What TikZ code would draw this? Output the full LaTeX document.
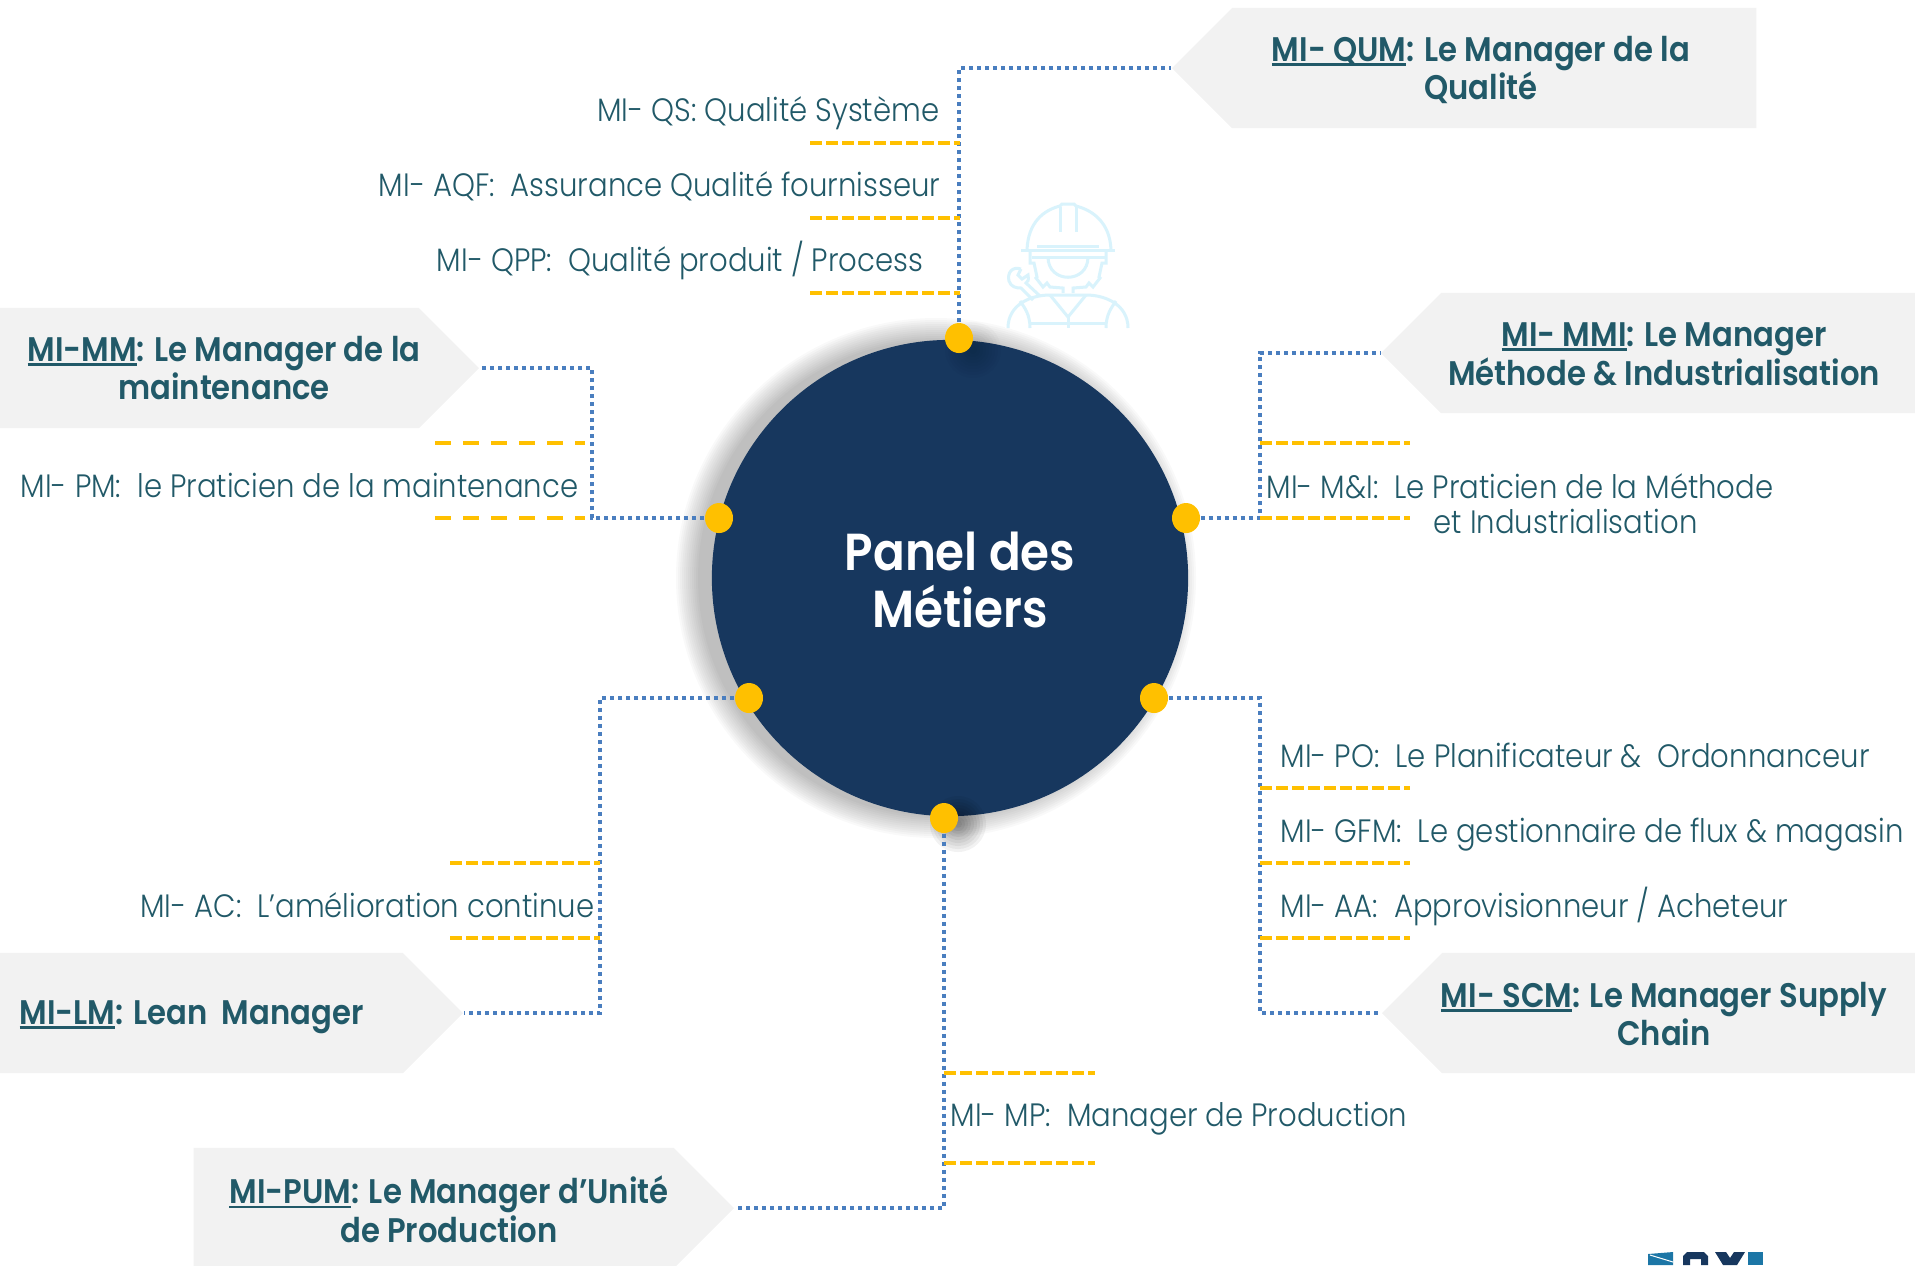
\documentclass[tikz,border=0pt]{standalone}
\usepackage{fontspec}
\setmainfont{Poppins Light}[BoldFont=Poppins SemiBold,FakeStretch=0.9]
\usetikzlibrary{shapes.geometric,shapes.symbols}
\definecolor{hubblue}{HTML}{17375E}
\definecolor{linkblue}{HTML}{4A7EBF}
\definecolor{tickgold}{HTML}{FFC000}
\definecolor{boxgrey}{HTML}{F2F2F2}
\definecolor{inkteal}{HTML}{215968}
\definecolor{iconblue}{HTML}{D9F3FC}
\definecolor{logoteal}{HTML}{1C76A6}
\newcommand{\ulbar}[1]{\setbox0\hbox{#1}\rlap{\raisebox{-1.4pt}{\rule{\wd0}{0.8pt}}}\box0}
\begin{document}
\begin{tikzpicture}[
        x=0.01cm, y=-0.01cm,
        hub/.style={circle, fill=hubblue, minimum size=4.76cm, inner sep=0pt},
        hubtext/.style={text=white, align=center, inner sep=0pt, font=\fontsize{14.8}{16}\selectfont\bfseries},
        pin/.style={ellipse, fill=tickgold, minimum width=0.28cm, minimum height=0.30cm, inner sep=0pt},
        boxw/.style={signal, signal to=west, signal pointer angle=90, fill=boxgrey, minimum height=1.2cm, inner sep=0pt, anchor=west},
        boxe/.style={signal, signal to=east, signal pointer angle=90, fill=boxgrey, minimum height=1.2cm, inner sep=0pt, anchor=east},
        title/.style={text=inkteal, align=center, inner sep=0pt, font=\fontsize{9.7}{11}\selectfont\bfseries},
        lbl/.style={text=inkteal, inner sep=0pt, font=\fontsize{9.2}{10}\selectfont},
        link/.style={linkblue, line width=0.035cm, dash pattern=on 0.04cm off 0.04cm},
        tick/.style={tickgold, line width=0.045cm, dash pattern=on 0.12cm off 0.04cm},
        widetick/.style={tickgold, line width=0.045cm, dash pattern=on 0.16cm off 0.12cm},
        icon/.style={iconblue, line width=0.03cm},
    ]
    \useasboundingbox (0,0) rectangle (1915,1265);

    \foreach \r in {238,240,...,260}
        \fill[black, opacity=0.022] (936,578) circle (\r);
    \fill[white] (1005,195) rectangle (1135,328);

    \draw[icon] (1027,250) .. controls (1028,222) and (1044,210) .. (1060,206) -- (1062,204) -- (1074,204) -- (1076,206) .. controls (1092,210) and (1110,222) .. (1111,250);
    \draw[icon] (1021,250) -- (1115,250);
    \draw[icon] (1037,246) -- (1099,246);
    \draw[icon] (1032,257) -- (1105,257);
    \draw[icon] (1060,207) -- (1060,232);
    \draw[icon] (1076,207) -- (1076,232);
    \draw[icon] (1030,252) -- (1030,263) -- (1034,263) -- (1037,277) -- (1036,278) -- (1043,287) -- (1047,283) -- (1050,287) -- (1063,288) -- (1063,293);
    \draw[icon] (1106,252) -- (1106,263) -- (1102,263) -- (1099,277) -- (1100,278) -- (1093,287) -- (1089,283) -- (1086,287) -- (1073,288) -- (1073,293);
    \draw[icon] (1048,257) .. controls (1048,284) and (1088,284) .. (1088,257);
    \draw[icon] (1008,328) .. controls (1008,305) and (1030,295) .. (1050,295) -- (1086,295) .. controls (1106,295) and (1128,305) .. (1128,328);
    \draw[icon] (1030,328) .. controls (1030,315) and (1025,308) .. (1020,301);
    \draw[icon] (1106,328) .. controls (1106,315) and (1111,308) .. (1116,301);
    \draw[icon] (1050,295) -- (1068,317) -- (1086,295);
    \draw[icon] (1068,317) -- (1068,328);
    \draw[icon] (1030,323) -- (1106,323);
    \draw[icon] (1021,269) .. controls (1012,266) and (1007,273) .. (1009,281) .. controls (1011,287) and (1016,288) .. (1021,288) -- (1033,300);
    \draw[icon] (1021,269) -- (1018,275) -- (1022,279) -- (1028,275) .. controls (1029,280) and (1028,282) .. (1026,283) -- (1040,296);

    \node[hub](hub) at (950,578) {};
    \node[hubtext](hubname) at (960,580) {Panel des\\Métiers};

    \foreach \r in {28,25,...,4} {
        \fill[black, opacity=0.05] (958,824) circle (\r);
        \fill[black, opacity=0.02] (973,350) circle (\r);
    }

    \node[pin](pintop) at (959,338) {};
    \node[pin](pinleft) at (719,518) {};
    \node[pin](pinright) at (1186,518) {};
    \node[pin](pinsw) at (749,698) {};
    \node[pin](pinse) at (1154,698) {};
    \node[pin](pinbottom) at (944,818) {};

    \node[boxw, minimum width=5.84cm](qumbox) at (1171,68) {};
    \node[boxw, minimum width=5.60cm](mmibox) at (1380,353) {};
    \node[boxw, minimum width=5.60cm](scmbox) at (1381,1013) {};
    \node[boxe, minimum width=5.20cm](mmbox) at (480,368) {};
    \node[boxe, minimum width=5.04cm](lmbox) at (464,1013) {};
    \node[boxe, minimum width=5.40cm](pumbox) at (735,1208) {};

    \node[title](qum) at (1481,70) {\ulbar{MI- QUM}: Le Manager de la\\Qualité};
    \node[title](mmi) at (1664,354) {\ulbar{MI- MMI}: Le Manager\\Méthode \& Industrialisation};
    \node[title](scm) at (1664,1014) {\ulbar{MI- SCM}: Le Manager Supply\\Chain};
    \node[title](mm) at (224,368) {\ulbar{MI-MM}: Le Manager de la\\maintenance};
    \node[title](pum) at (449,1209) {\ulbar{MI-PUM}: Le Manager d’Unité\\de Production};
    \node[title, anchor=west](lm) at (19,1017) {\ulbar{MI-LM}: Lean~~Manager};

    \node[lbl, anchor=base east](qs) at (940,121) {MI- QS: Qualité Système};
    \node[lbl, anchor=base east](aqf) at (941,196) {MI- AQF:~~Assurance Qualité fournisseur};
    \node[lbl, anchor=base east](qpp) at (924,271) {MI- QPP:~~Qualité produit / Process};
    \node[lbl, anchor=base east](pm) at (579,497) {MI- PM:~~le Praticien de la maintenance};
    \node[lbl, anchor=base east](ac) at (595,917) {MI- AC:~~L’amélioration continue};
    \node[lbl, anchor=west, align=left](mi) at (1266,504) {MI- M\&I:~~Le Praticien de la Méthode\\\hspace*{1.67cm}et Industrialisation};
    \node[lbl, anchor=base west](po) at (1280,767) {MI- PO:~~Le Planificateur \&~~Ordonnanceur};
    \node[lbl, anchor=base west](gfm) at (1280,842) {MI- GFM:~~Le gestionnaire de flux \& magasin};
    \node[lbl, anchor=base west](aa) at (1280,917) {MI- AA:~~Approvisionneur / Acheteur};
    \node[lbl, anchor=base west](mp) at (950,1126) {MI- MP:~~Manager de Production};

    \coordinate (qumturn) at (959,68);
    \coordinate (mmiturn) at (1260,518);
    \coordinate (mmturn) at (592,518);
    \coordinate (lmturn) at (600,698);
    \coordinate (scmturn) at (1260,698);
    \coordinate (pumturn) at (944,1208);

    \draw[link] (pintop) -- (qumturn) -- (qumbox.west);
    \draw[link] (pinright) -- (mmiturn) |- (mmibox.west);
    \draw[link] (pinleft) -- (mmturn) |- (mmbox.east);
    \draw[link] (pinsw) -- (lmturn) |- (lmbox.east);
    \draw[link] (pinse) -- (scmturn) |- (scmbox.west);
    \draw[link] (pinbottom) -- (pumturn) -- (pumbox.east);

    \foreach \y in {143,218,293}
        \draw[tick] (810,\y) -- (960,\y);
    \foreach \y in {443,518}
        \draw[tick] (1260,\y) -- (1410,\y);
    \foreach \y in {788,863,938}
        \draw[tick] (1260,\y) -- (1410,\y);
    \foreach \y in {863,938}
        \draw[tick] (450,\y) -- (600,\y);
    \foreach \y in {1073,1163}
        \draw[tick] (944,\y) -- (1095,\y);
    \foreach \y in {443,518}
        \draw[widetick] (435,\y) -- (585,\y);

    \fill[logoteal] (1648,1265) -- (1648,1254) -- (1673,1252) -- (1673,1265) -- cycle;
    \draw[white, line width=0.01cm] (1650,1255) -- (1673,1262);
    \fill[hubblue] (1683,1265) -- (1683,1256) -- (1687,1252) -- (1704,1252) -- (1708,1256) -- (1708,1265) -- (1701,1265) -- (1701,1259) -- (1690,1259) -- (1690,1265) -- cycle;
    \fill[hubblue] (1715,1252) -- (1726,1252) -- (1730,1258) -- (1734,1252) -- (1745,1252) -- (1737,1265) -- (1723,1265) -- cycle;
    \fill[logoteal] (1748,1252) -- (1763,1252) -- (1763,1265) -- (1748,1265) -- cycle;
\end{tikzpicture}
\end{document}
